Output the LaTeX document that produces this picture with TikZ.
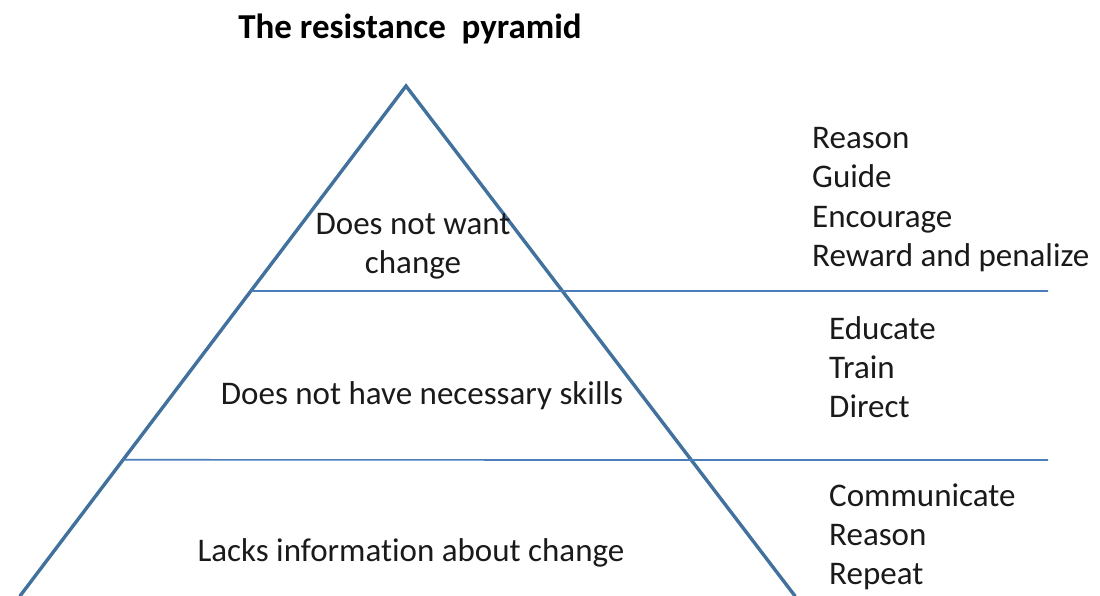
\documentclass[tikz,border=0pt]{standalone}
\usepackage{fontspec}
\setmainfont{Carlito}[Ligatures={NoCommon}]
\usetikzlibrary{calc}
\definecolor{edgeblue}{HTML}{41719C}
\definecolor{rowblue}{HTML}{4A7EBB}
\definecolor{txt}{HTML}{1A1A1A}
\tikzset{
  side/.style={draw=edgeblue, line width=3.4pt, line cap=round},
  divider/.style={draw=rowblue, line width=1.7pt},
  label/.style={inner sep=0pt, text=txt, font=\fontsize{33}{39}\selectfont},
  action/.style={label, anchor=base west},
  level/.style={label, anchor=base, align=center}
}
\begin{document}
\begin{tikzpicture}[x=1pt, y=-1pt]
  \useasboundingbox (0,0) rectangle (1100,596);
  \begin{scope}
    \clip (0,0) rectangle (1100,596);
    % pyramid outline
    \coordinate (apex) at (406,86);
    \coordinate (bl) at (20,596);
    \coordinate (br) at (795,596);
    \draw[side] (bl) -- (apex) -- (br);
    % level dividers
    \coordinate (d1s) at ($(apex)!0.402!(bl)$);
    \coordinate (d1e) at (1048,291);
    \coordinate (d2s) at ($(apex)!0.733!(bl)$);
    \coordinate (d2e) at (1048,460);
    \draw[divider] (d1s) -- (d1e);
    \draw[divider] (d2s) -- (d2e);
  \end{scope}

  % title
  \node[inner sep=0pt, anchor=base, text=black, font=\fontsize{35}{42}\selectfont\bfseries] (title) at (410,39) {The resistance\ \ pyramid};

  % levels
  \node[level] (top) at (413,273) {Does not want\\change};
  \node[level] (mid) at (422,404) {Does not have necessary skills};
  \node[level] (low) at (411,561) {Lacks information about change};

  % remedies
  \node[action] (r1) at (812,149) {Reason};
  \node[action] (r2) at (812,188) {Guide};
  \node[action] (r3) at (812,227) {Encourage};
  \node[action] (r4) at (812,266) {Reward and penalize};

  \node[action] (s1) at (829,339) {Educate};
  \node[action] (s2) at (829,378) {Train};
  \node[action] (s3) at (829,417) {Direct};

  \node[action] (t1) at (829,506) {Communicate};
  \node[action] (t2) at (829,545) {Reason};
  \node[action] (t3) at (829,584) {Repeat};
\end{tikzpicture}
\end{document}
